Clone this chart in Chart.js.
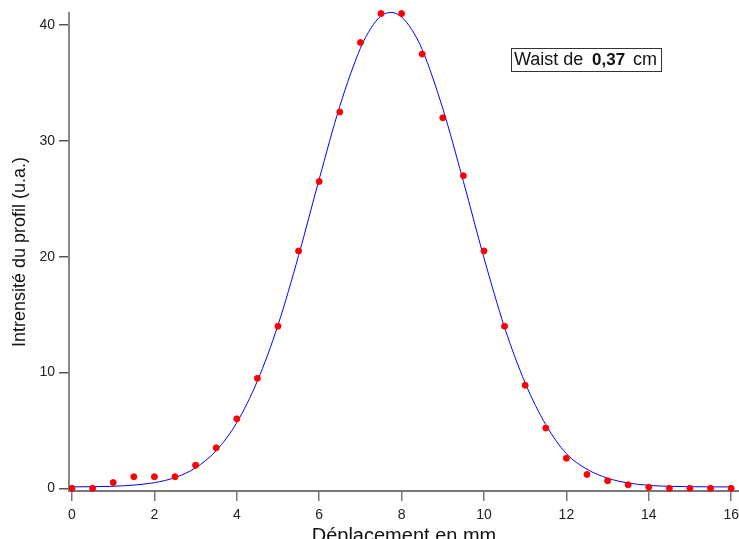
<!DOCTYPE html>
<html>
<head>
<meta charset="utf-8">
<script src="https://cdn.jsdelivr.net/npm/chart.js@4"></script>
<style>
html, body { margin: 0; padding: 0; background: #fff; overflow: hidden; }
</style>
</head>
<body>
<canvas id="profilChart" width="739" height="539"></canvas>
<script>
// measured points (mm, u.a.)
const positions = [0, 0.5, 1, 1.5, 2, 2.5, 3, 3.5, 4, 4.5, 5, 5.5, 6, 6.5, 7, 7.5, 8,
    8.5, 9, 9.5, 10, 10.5, 11, 11.5, 12, 12.5, 13, 13.5, 14, 14.5, 15, 15.5, 16];
const intensities = [0, 0, 0.5, 1, 1, 1, 2, 3.5, 6, 9.5, 14, 20.5, 26.5, 32.5, 38.5, 41, 41,
    37.5, 32, 27, 20.5, 14, 8.9, 5.2, 2.6, 1.2, 0.65, 0.3, 0.1, 0, 0, 0, 0];

// fitted curve
const fitX = [0, 0.5, 1, 1.5, 2, 2.5, 3, 3.5, 4, 4.5, 5, 5.5, 6, 6.5, 7, 7.25, 7.5, 7.75,
    8, 8.25, 8.5, 9, 9.5, 10, 10.5, 11, 11.5, 12, 12.5, 13, 13.5, 14, 14.5, 15, 15.5, 16];
const fitY = [0.13, 0.14, 0.18, 0.28, 0.49, 0.93, 1.77, 3.26, 5.68, 9.27, 14.1, 20.1, 26.7,
    33.0, 38.0, 39.7, 40.8, 41.1, 40.7, 39.6, 37.9, 32.8, 26.5, 19.9, 13.9, 9.1, 5.5, 3.0,
    1.65, 0.88, 0.46, 0.26, 0.17, 0.14, 0.13, 0.12];

const xTicks = [0, 2, 4, 6, 8, 10, 12, 14, 16];
const yTicks = [0, 10, 20, 30, 40];

const waistText = "Waist de";
const waistValue = "0,37";
const waistUnit = "cm";

const FONT = "'Liberation Sans', Arial, sans-serif";

const waistBox = {
    id: "waistBox",
    afterDraw(chart) {
        const c = chart.ctx;
        c.save();
        c.fillStyle = "#fff";
        c.fillRect(511, 48, 150, 23);
        c.strokeStyle = "#333";
        c.lineWidth = 1;
        c.strokeRect(511.5, 48.5, 150, 23);
        c.fillStyle = "#111";
        c.textBaseline = "alphabetic";
        c.font = "18px " + FONT;
        c.fillText(waistText, 514, 65);
        c.font = "bold 17px " + FONT;
        c.fillText(waistValue, 592, 65);
        c.font = "18px " + FONT;
        c.fillText(waistUnit, 633, 65);
        c.restore();
    }
};

const ctx = document.getElementById("profilChart");

new Chart(ctx, {
    type: "scatter",
    data: {
        datasets: [
            {
                label: "mesure",
                data: positions.map((x, i) => ({ x: x, y: intensities[i] })),
                backgroundColor: "#ff0000",
                borderColor: "#ff0000",
                pointRadius: 3,
                showLine: false
            },
            {
                label: "ajustement",
                data: fitX.map((x, i) => ({ x: x, y: fitY[i] })),
                borderColor: "#0000ff",
                borderWidth: 1,
                pointRadius: 0,
                showLine: true,
                cubicInterpolationMode: "monotone"
            }
        ]
    },
    options: {
        responsive: false,
        animation: false,
        devicePixelRatio: 1,
        clip: false,
        layout: { autoPadding: false, padding: { top: 13, right: 0, left: 0, bottom: 0 } },
        plugins: {
            legend: { display: false },
            tooltip: { enabled: false }
        },
        scales: {
            x: {
                type: "linear",
                position: "bottom",
                min: -0.073,
                max: 16.19,
                afterBuildTicks: s => { s.ticks = xTicks.map(v => ({ value: v })); },
                afterFit: s => { s.height = 48; s.paddingLeft = 0; s.paddingRight = 0; },
                grid: {
                    drawOnChartArea: false,
                    drawTicks: true,
                    tickLength: 10,
                    color: "#777",
                    lineWidth: 1.5
                },
                border: { display: true, color: "#777", width: 2 },
                ticks: {
                    color: "#222",
                    font: { size: 14, family: FONT },
                    padding: 6,
                    maxRotation: 0,
                    autoSkip: false
                },
                title: {
                    display: true,
                    text: "Déplacement en mm",
                    color: "#111",
                    font: { size: 20, family: FONT },
                    padding: { top: 0, bottom: -9 }
                }
            },
            y: {
                type: "linear",
                min: -0.23,
                max: 41.05,
                afterBuildTicks: s => { s.ticks = yTicks.map(v => ({ value: v })); },
                afterFit: s => { s.width = 69; s.paddingTop = 0; s.paddingBottom = 0; },
                grid: {
                    drawOnChartArea: false,
                    drawTicks: true,
                    tickLength: 10,
                    color: "#555",
                    lineWidth: 1.5
                },
                border: { display: true, color: "#888", width: 2 },
                ticks: {
                    color: "#222",
                    font: { size: 14, family: FONT },
                    padding: 4
                },
                title: {
                    display: true,
                    text: "Intrensité du profil (u.a.)",
                    color: "#111",
                    font: { size: 18, family: FONT },
                    padding: { top: 9, bottom: 0 }
                }
            }
        }
    },
    plugins: [waistBox]
});
</script>
</body>
</html>
